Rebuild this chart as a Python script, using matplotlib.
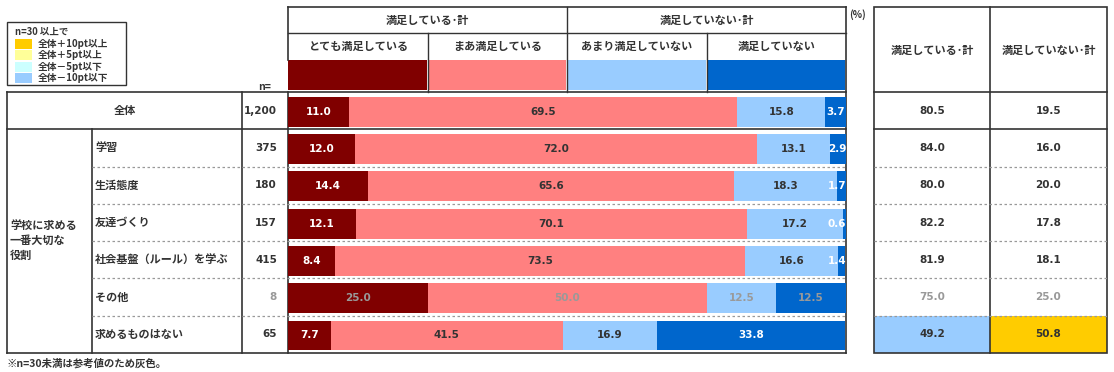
import matplotlib
matplotlib.use("Agg")
import matplotlib.pyplot as plt
from matplotlib.patches import Rectangle

plt.rcParams['font.family'] = ['Noto Sans CJK JP', 'DejaVu Sans']

# ---- data ----
categories = ['全体', '学習', '生活態度', '友達づくり', '社会基盤（ルール）を学ぶ', 'その他', '求めるものはない']
n_labels = ['1,200', '375', '180', '157', '415', '8', '65']
small_n = [False, False, False, False, False, True, False]
series_names = ['とても満足している', 'まあ満足している', 'あまり満足していない', '満足していない']
very_satisfied = [11.0, 12.0, 14.4, 12.1, 8.4, 25.0, 7.7]
somewhat_satisfied = [69.5, 72.0, 65.6, 70.1, 73.5, 50.0, 41.5]
not_very_satisfied = [15.8, 13.1, 18.3, 17.2, 16.6, 12.5, 16.9]
not_satisfied = [3.7, 2.9, 1.7, 0.6, 1.4, 12.5, 33.8]
satisfied_total = [80.5, 84.0, 80.0, 82.2, 81.9, 75.0, 49.2]
unsatisfied_total = [19.5, 16.0, 20.0, 17.8, 18.1, 25.0, 50.8]
group_names = ['満足している･計', '満足していない･計']
group_label = '学校に求める\n一番大切な\n役割'
legend_labels = ['全体＋10pt以上', '全体＋5pt以上', '全体－5pt以下', '全体－10pt以下']

# ---- styles ----
series_colors = ['#800000', '#FF8080', '#99CCFF', '#0066CC']
label_colors = ['white', '#333333', '#333333', 'white']
legend_colors = ['#FFCC00', '#FFFF99', '#CCFFFF', '#99CCFF']
DARK = '#333333'
GRAY = '#999999'
W, H = 1114, 372

fig = plt.figure(figsize=(W / 100, H / 100), dpi=100)
ax = fig.add_axes([0, 0, 1, 1])
ax.set_xlim(0, W)
ax.set_ylim(H, 0)
ax.axis('off')

# layout (pixels)
x_left, x_cat, x_n, x_bar0, x_bar1 = 7, 92, 242, 288, 846
x_r0, x_rmid, x_r1 = 874, 990, 1107
y_top, y_sub, y_sw0, y_sw1, y_body, y_bot = 7, 33, 60, 90, 92, 353
nrows = len(categories)
row_h = (y_bot - y_body) / nrows
bounds = [y_body + i * row_h for i in range(nrows + 1)]
centers = [(bounds[i] + bounds[i + 1]) / 2 for i in range(nrows)]

def hline(y, x0, x1, dashed=False, lw=1.2, color=DARK):
    if dashed:
        ax.plot([x0, x1], [y, y], color=GRAY, lw=0.9, ls=(0, (2, 2)), zorder=3)
    else:
        ax.plot([x0, x1], [y, y], color=color, lw=lw, zorder=3)

def vline(x, y0, y1, lw=1.2):
    ax.plot([x, x], [y0, y1], color=DARK, lw=lw, zorder=3)

# ---- legend box ----
ax.add_patch(Rectangle((7, 22), 119, 63, fill=False, ec=DARK, lw=1.0))
ax.text(15, 32, 'n=30 以上で', fontsize=6.8, color=DARK, va='center', fontweight='bold')
for i, (c, lab) in enumerate(zip(legend_colors, legend_labels)):
    yy = 39 + i * 11.3
    ax.add_patch(Rectangle((15, yy), 17, 10, color=c, lw=0))
    ax.text(38, yy + 5, lab, fontsize=7, color=DARK, va='center', fontweight='bold')
ax.text(265, 87, 'n=', fontsize=7.5, color=DARK, ha='center', va='center', fontweight='bold')

# ---- header ----
hline(y_top, x_bar0, x_bar1)
hline(y_sub, x_bar0, x_bar1, lw=1.0)
vline(x_bar0, y_top, y_sw0)
vline(x_bar1, y_top, y_bot)
col_x = [x_bar0 + (x_bar1 - x_bar0) * k / 4 for k in range(5)]
vline(col_x[2], y_top, y_body, lw=1.0)
vline(col_x[1], y_sub, y_body, lw=1.0)
vline(col_x[3], y_sub, y_body, lw=1.0)
ax.text((col_x[0] + col_x[2]) / 2, 20, group_names[0], fontsize=8, color=DARK, ha='center', va='center', fontweight='bold')
ax.text((col_x[2] + col_x[4]) / 2, 20, group_names[1], fontsize=8, color=DARK, ha='center', va='center', fontweight='bold')
for k in range(4):
    ax.text((col_x[k] + col_x[k + 1]) / 2, 46, series_names[k], fontsize=8, color=DARK,
            ha='center', va='center', fontweight='bold')
    ax.add_patch(Rectangle((col_x[k], y_sw0), col_x[k + 1] - col_x[k] - 1, y_sw1 - y_sw0,
                           color=series_colors[k], lw=0, zorder=2))
ax.text(857, 15, '(%)', fontsize=7, color=DARK, ha='center', va='center', fontweight='bold')

# ---- left table ----
hline(y_body, x_left, x_bar1)
hline(bounds[1], x_left, x_bar1)
hline(y_bot, x_left, x_bar1)
vline(x_left, y_body, y_bot)
vline(x_cat, bounds[1], y_bot)
vline(x_n, y_body, y_bot)
vline(x_bar0, y_body, y_bot)
for i in range(2, nrows):
    hline(bounds[i], x_cat, x_bar1, dashed=True)

ax.text((x_left + x_n) / 2, centers[0], categories[0], fontsize=8, color=DARK,
        ha='center', va='center', fontweight='bold')
for i in range(1, nrows):
    ax.text(x_cat + 3, centers[i], categories[i], fontsize=8, color=DARK,
            ha='left', va='center', fontweight='bold')
for i in range(nrows):
    ax.text(277, centers[i], n_labels[i], fontsize=7.5, color=GRAY if small_n[i] else DARK,
            ha='right', va='center', fontweight='bold', family='DejaVu Sans')
ax.text(x_left + 3, (bounds[1] + y_bot) / 2 - 1, group_label, fontsize=8, color=DARK,
        ha='left', va='center', fontweight='bold', linespacing=1.2)

# ---- bars ----
bx = fig.add_axes([x_bar0 / W, 1 - y_bot / H, (x_bar1 - x_bar0) / W, (y_bot - y_body) / H])
bx.set_xlim(0, 100)
bx.set_ylim(nrows, 0)
bx.axis('off')
bx.patch.set_alpha(0)
series = [very_satisfied, somewhat_satisfied, not_very_satisfied, not_satisfied]
ypos = [i + 0.53 for i in range(nrows)]
left = [0.0] * nrows
for k, vals in enumerate(series):
    bx.barh(ypos, vals, left=left, height=0.8, color=series_colors[k], lw=0, zorder=2)
    for i, v in enumerate(vals):
        col = GRAY if small_n[i] else label_colors[k]
        cx = min(left[i] + v / 2, 98.4)
        bx.text(cx, ypos[i], f'{v:.1f}', fontsize=7.5, color=col,
                ha='center', va='center', fontweight='bold', family='DejaVu Sans', zorder=4)
    left = [l + v for l, v in zip(left, vals)]

# ---- right table ----
ax.add_patch(Rectangle((x_r0, y_top), x_r1 - x_r0, y_bot - y_top, fill=False, ec=DARK, lw=1.2, zorder=3))
vline(x_rmid, y_top, y_bot)
hline(y_body, x_r0, x_r1)
hline(bounds[1], x_r0, x_r1)
for i in range(2, nrows):
    hline(bounds[i], x_r0, x_r1, dashed=True)
ax.text((x_r0 + x_rmid) / 2, 50, group_names[0], fontsize=8, color=DARK, ha='center', va='center', fontweight='bold')
ax.text((x_rmid + x_r1) / 2, 50, group_names[1], fontsize=8, color=DARK, ha='center', va='center', fontweight='bold')

def highlight(v, base):
    d = v - base
    if d >= 10: return legend_colors[0]
    if d >= 5: return legend_colors[1]
    if d <= -10: return legend_colors[3]
    if d <= -5: return legend_colors[2]
    return None

for i in range(nrows):
    for j, (vals, x0, x1) in enumerate([(satisfied_total, x_r0, x_rmid), (unsatisfied_total, x_rmid, x_r1)]):
        v = vals[i]
        if i > 0 and not small_n[i]:
            c = highlight(v, vals[0])
            if c:
                ax.add_patch(Rectangle((x0, bounds[i]), x1 - x0, bounds[i + 1] - bounds[i], color=c, lw=0, zorder=1))
        ax.text((x0 + x1) / 2, centers[i], f'{v:.1f}', fontsize=7.5, color=GRAY if small_n[i] else DARK,
                ha='center', va='center', fontweight='bold', family='DejaVu Sans', zorder=4)

ax.text(7, 363, '※n=30未満は参考値のため灰色。', fontsize=7.5, color=DARK, ha='left', va='center', fontweight='bold')

fig.savefig('out.png', dpi=100)
